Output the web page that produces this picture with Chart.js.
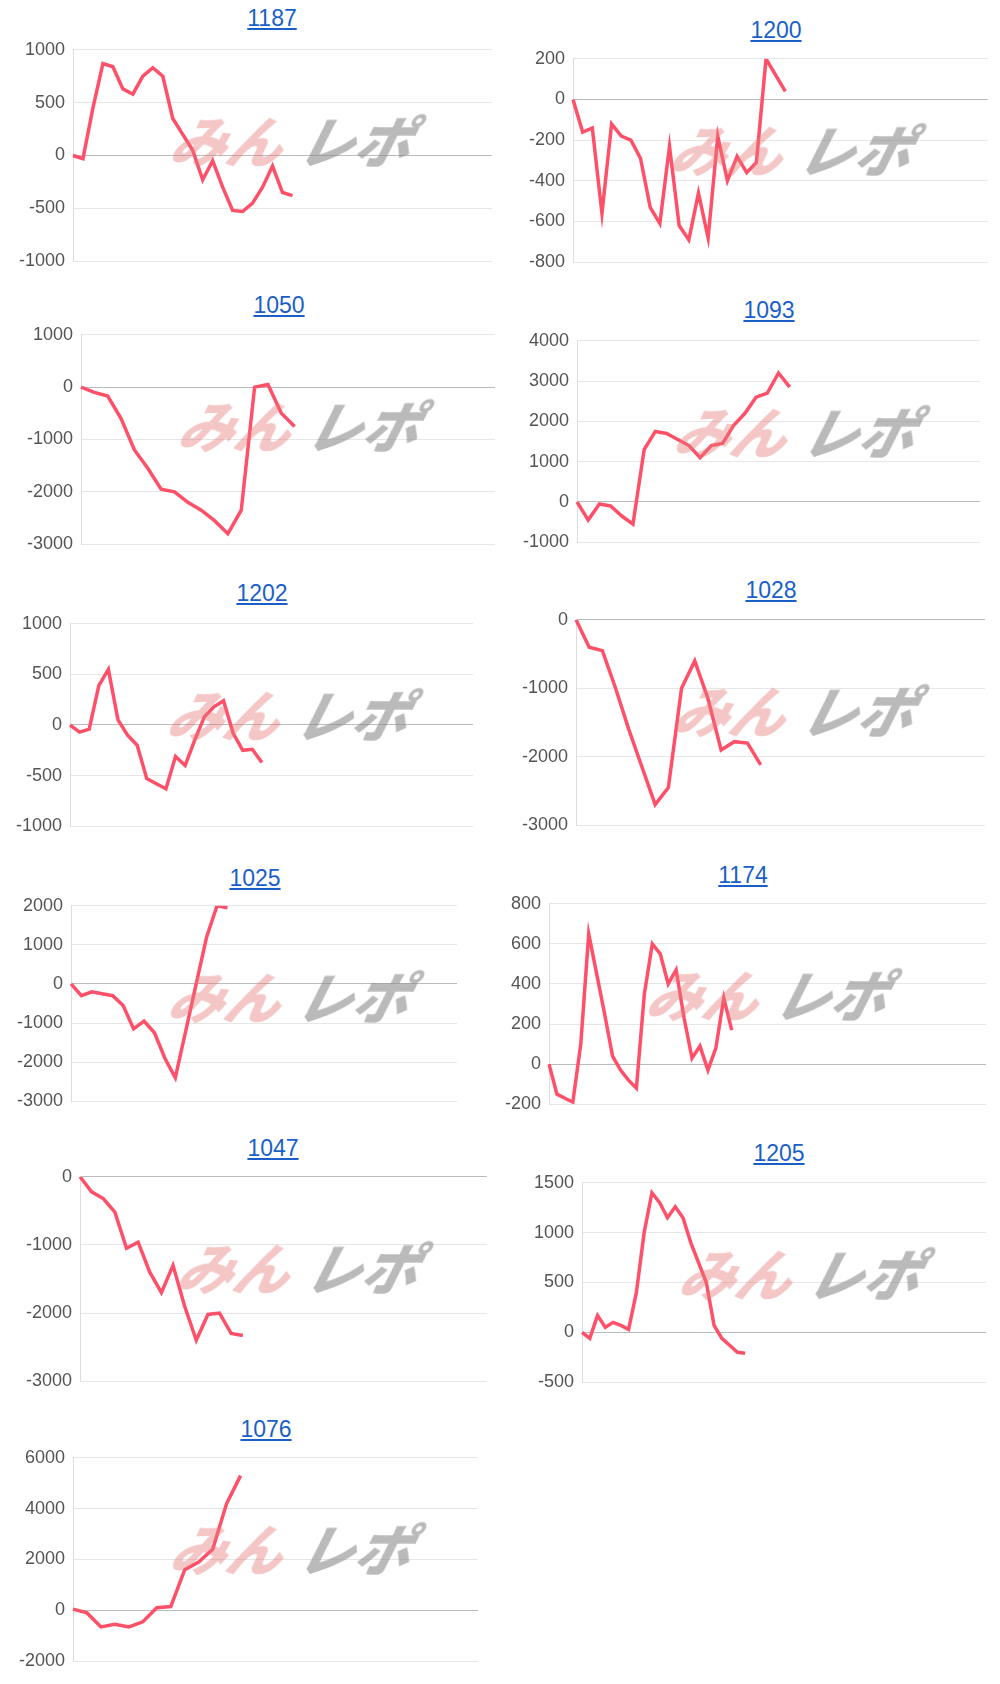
<!DOCTYPE html>
<html>
<head>
<meta charset="utf-8">
<script src="https://cdn.jsdelivr.net/npm/chart.js@4/dist/chart.umd.min.js"></script>
<style>
body { margin:0; background:#fff; width:1000px; height:1684px; position:relative; font-family: "Liberation Sans", Arial, sans-serif; }
.title { position:absolute; font-size:23px; color:#1a5fc8; text-decoration:underline; transform:translateX(-50%); white-space:nowrap; }
.box { position:absolute; }
.wm { position:absolute; font-family:"Noto Sans CJK JP"; font-weight:900; font-style:italic; font-size:56px; line-height:56px; letter-spacing:0px; white-space:nowrap; pointer-events:none; transform:skewX(-14deg); }
.wm .a { color:rgba(228,120,120,0.42); }
.wm .b { color:rgba(140,140,140,0.6); margin-left:16px; }
</style>
</head>
<body>
<script>
// series values
const d1187 = [0,-30,450,870,840,630,580,750,830,750,350,200,50,-230,-50,-300,-520,-530,-450,-300,-100,-350,-380];
const d1200 = [0,-160,-140,-560,-120,-180,-200,-290,-530,-610,-230,-620,-690,-460,-680,-180,-400,-280,-360,-310,200,120,40];
const d1050 = [0,-100,-170,-600,-1200,-1550,-1950,-2000,-2200,-2350,-2550,-2800,-2350,0,50,-500,-750];
const d1093 = [0,-450,-50,-100,-350,-550,1300,1750,1700,1550,1400,1100,1400,1450,1900,2200,2600,2700,3200,2850];
const d1202 = [0,-70,-40,390,550,50,-100,-200,-530,-580,-630,-310,-400,-150,80,180,240,-80,-250,-240,-370];
const d1028 = [0,-400,-450,-1000,-1600,-2150,-2700,-2450,-1000,-600,-1150,-1900,-1780,-1800,-2120];
const d1025 = [0,-300,-200,-250,-300,-550,-1150,-950,-1250,-1900,-2400,-1200,0,1200,2000,1950];
const d1174 = [0,-150,-170,-190,100,650,450,250,40,-30,-80,-120,350,600,550,400,470,230,30,90,-30,80,330,170];
const d1047 = [0,-220,-320,-520,-1050,-960,-1400,-1700,-1300,-1900,-2400,-2020,-2000,-2300,-2330];
const d1205 = [0,-60,170,50,100,70,30,400,1000,1400,1300,1150,1260,1150,900,700,500,70,-60,-130,-200,-210];
const d1076 = [50,-100,-650,-550,-650,-450,100,150,1600,1900,2400,4200,5300];

// chart names, label counts and y tick ranges
const names  = ['1187','1200','1050','1093','1202','1028','1025','1174','1047','1205','1076'];
const series = [d1187,d1200,d1050,d1093,d1202,d1028,d1025,d1174,d1047,d1205,d1076];
const slots  = [43,44,32,37,43,32,38,56,36,53,30];
const yMin   = [-1000,-800,-3000,-1000,-1000,-3000,-3000,-200,-3000,-500,-2000];
const yMax   = [1000,200,1000,4000,1000,0,2000,800,0,1500,6000];
const yStep  = [500,200,1000,1000,500,1000,1000,200,1000,500,2000];

// layout: [gridLeft, gridRight, gridTop, gridBottom, titleX, titleY]
const boxes = [
  [73,492,49,262,272,18],
  [573,988,58,263,776,30],
  [81,495,334,545,279,305],
  [577,980,340,543,769,310],
  [70,473,623,827,262,593],
  [576,985,619,826,771,590],
  [71,457,905,1102,255,878],
  [549,986,903,1105,743,875],
  [80,487,1176,1382,273,1148],
  [582,986,1182,1383,779,1153],
  [73,478,1457,1662,266,1429]
];

const AXW = 75, PAD = 18;
names.forEach((name, i) => {
  const [l, r, t, b, tx, ty] = boxes[i];
  const title = document.createElement('div');
  title.className = 'title';
  title.style.left = tx + 'px';
  title.style.top = (ty - 13) + 'px';
  title.textContent = name;
  document.body.appendChild(title);

  const box = document.createElement('div');
  box.className = 'box';
  box.style.left = (l - AXW) + 'px';
  box.style.top = (t - PAD) + 'px';
  box.style.width = (r - l + AXW) + 'px';
  box.style.height = (b - t + 2 * PAD) + 'px';
  const cv = document.createElement('canvas');
  box.appendChild(cv);
  document.body.appendChild(box);

  const wm = document.createElement('div');
  wm.className = 'wm';
  wm.style.left = (l + 100) + 'px';
  wm.style.top = (t + 62) + 'px';
  wm.innerHTML = '<span class="a">みん</span><span class="b">レポ</span>';
  document.body.appendChild(wm);

  const labels = [];
  for (let k = 0; k < slots[i]; k++) labels.push(String(k + 1));

  new Chart(cv, {
    type: 'line',
    data: {
      labels: labels,
      datasets: [{
        data: series[i],
        borderColor: 'rgb(255,80,105)',
        borderWidth: 3.5,
        pointRadius: 0,
        tension: 0,
        fill: false
      }]
    },
    options: {
      responsive: true,
      maintainAspectRatio: false,
      animation: false,
      layout: { padding: 0 },
      plugins: { legend: { display: false }, tooltip: { enabled: false } },
      scales: {
        x: { display: false, offset: false },
        y: {
          min: yMin[i], max: yMax[i],
          afterFit: s => { s.width = AXW; },
          ticks: { stepSize: yStep[i], color: '#555', font: { size: 18, family: 'Liberation Sans' }, padding: 8, callback: v => String(v) },
          border: { color: '#ddd' },
          grid: {
            drawTicks: false,
            color: c => c.tick && c.tick.value === 0 ? '#bbb' : '#e6e6e6'
          }
        }
      }
    }
  });
});
</script>
</body>
</html>
